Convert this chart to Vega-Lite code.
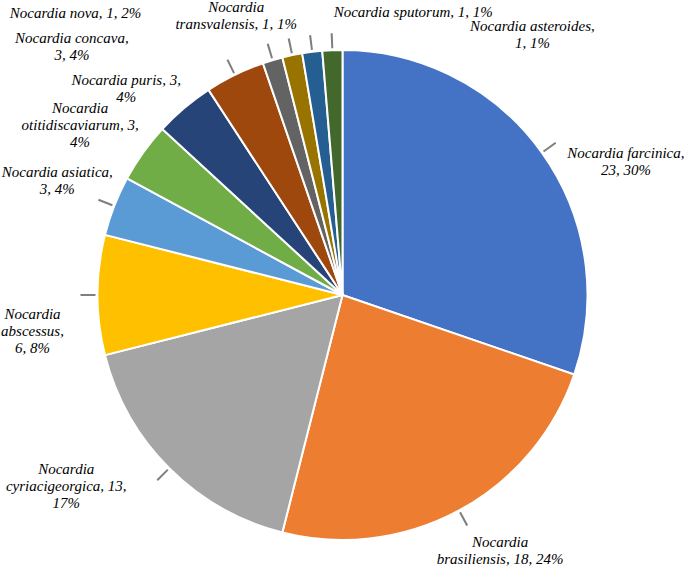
{
  "$schema": "https://vega.github.io/schema/vega-lite/v6.json",
  "width": 685,
  "height": 548,
  "padding": {"top": 21, "left": 0, "right": 0, "bottom": 0},
  "autosize": {"type": "none"},
  "background": "white",
  "config": {"view": {"stroke": null}, "text": {"font": "'Liberation Serif', 'Times New Roman', Times, serif", "fontStyle": "italic", "fontSize": 15, "lineHeight": 17, "lineBreak": "\n", "color": "#000", "align": "center", "baseline": "top"}},
  "data": {
    "values": [
      {"order": 1, "species": "Nocardia farcinica", "count": 23, "label": "Nocardia farcinica,\n23, 30%"},
      {"order": 2, "species": "Nocardia brasiliensis", "count": 18, "label": "Nocardia\nbrasiliensis, 18, 24%"},
      {"order": 3, "species": "Nocardia cyriacigeorgica", "count": 13, "label": "Nocardia\ncyriacigeorgica, 13,\n17%"},
      {"order": 4, "species": "Nocardia abscessus", "count": 6, "label": "Nocardia\nabscessus,\n6, 8%"},
      {"order": 5, "species": "Nocardia asiatica", "count": 3, "label": "Nocardia asiatica,\n3, 4%"},
      {"order": 6, "species": "Nocardia otitidiscaviarum", "count": 3, "label": "Nocardia\notitidiscaviarum, 3,\n4%"},
      {"order": 7, "species": "Nocardia puris", "count": 3, "label": "Nocardia puris, 3,\n4%"},
      {"order": 8, "species": "Nocardia concava", "count": 3, "label": "Nocardia concava,\n3, 4%"},
      {"order": 9, "species": "Nocardia nova", "count": 1, "label": "Nocardia nova, 1, 2%"},
      {"order": 10, "species": "Nocardia transvalensis", "count": 1, "label": "Nocardia\ntransvalensis, 1, 1%"},
      {"order": 11, "species": "Nocardia sputorum", "count": 1, "label": "Nocardia sputorum, 1, 1%"},
      {"order": 12, "species": "Nocardia asteroides", "count": 1, "label": "Nocardia asteroides,\n1, 1%"}
    ]
  },
  "transform": [
    {"window": [{"op": "sum", "field": "count", "as": "cum"}], "sort": [{"field": "order", "order": "ascending"}], "frame": [null, 0]},
    {"joinaggregate": [{"op": "sum", "field": "count", "as": "total"}]},
    {"calculate": "2 * PI * (datum.cum - datum.count / 2) / datum.total", "as": "mid"},
    {"calculate": "datum.mid - 0.004", "as": "t1"},
    {"calculate": "datum.mid + 0.004", "as": "t2"}
  ],
  "resolve": {"scale": {"theta": "independent"}},
  "layer": [
    {
      "mark": {"type": "arc", "radius": 245, "stroke": "white", "strokeWidth": 2},
      "encoding": {
        "theta": {"field": "count", "type": "quantitative", "stack": true},
        "order": {"field": "order", "type": "quantitative"},
        "color": {
          "field": "species", "type": "nominal", "legend": null,
          "scale": {
            "domain": ["Nocardia farcinica", "Nocardia brasiliensis", "Nocardia cyriacigeorgica", "Nocardia abscessus", "Nocardia asiatica", "Nocardia otitidiscaviarum", "Nocardia puris", "Nocardia concava", "Nocardia nova", "Nocardia transvalensis", "Nocardia sputorum", "Nocardia asteroides"],
            "range": ["#4472C4", "#ED7D31", "#A5A5A5", "#FFC000", "#5B9BD5", "#70AD47", "#264478", "#9E480E", "#636363", "#997300", "#255E91", "#43682B"]
          }
        }
      }
    },
    {
      "transform": [{"filter": "datum.order != 6 && datum.order != 7"}],
      "mark": {"type": "arc", "radius": 262, "radius2": 247, "fill": "#7f7f7f"},
      "encoding": {
        "theta": {"field": "t1", "type": "quantitative", "scale": null},
        "theta2": {"field": "t2"}
      }
    },
    {"transform": [{"filter": "datum.order == 1"}], "mark": {"type": "text", "radius": 245, "dx": 84, "dy": -7}, "encoding": {"theta": {"field": "mid", "type": "quantitative", "scale": null}, "text": {"field": "label"}}},
    {"transform": [{"filter": "datum.order == 2"}], "mark": {"type": "text", "radius": 245, "dx": 41, "dy": 25}, "encoding": {"theta": {"field": "mid", "type": "quantitative", "scale": null}, "text": {"field": "label"}}},
    {"transform": [{"filter": "datum.order == 3"}], "mark": {"type": "text", "radius": 245, "dx": -103, "dy": -6}, "encoding": {"theta": {"field": "mid", "type": "quantitative", "scale": null}, "text": {"field": "label"}}},
    {"transform": [{"filter": "datum.order == 4"}], "mark": {"type": "text", "radius": 245, "dx": -65, "dy": 12}, "encoding": {"theta": {"field": "mid", "type": "quantitative", "scale": null}, "text": {"field": "label"}}},
    {"transform": [{"filter": "datum.order == 5"}], "mark": {"type": "text", "radius": 245, "dx": -57, "dy": -41}, "encoding": {"theta": {"field": "mid", "type": "quantitative", "scale": null}, "text": {"field": "label"}}},
    {"transform": [{"filter": "datum.order == 6"}], "mark": {"type": "text", "radius": 245, "dx": -63, "dy": -52}, "encoding": {"theta": {"field": "mid", "type": "quantitative", "scale": null}, "text": {"field": "label"}}},
    {"transform": [{"filter": "datum.order == 7"}], "mark": {"type": "text", "radius": 245, "dx": -58, "dy": -35}, "encoding": {"theta": {"field": "mid", "type": "quantitative", "scale": null}, "text": {"field": "label"}}},
    {"transform": [{"filter": "datum.order == 8"}], "mark": {"type": "text", "radius": 245, "dx": -163, "dy": -44}, "encoding": {"theta": {"field": "mid", "type": "quantitative", "scale": null}, "text": {"field": "label"}}},
    {"transform": [{"filter": "datum.order == 9"}], "mark": {"type": "text", "radius": 245, "dx": -197, "dy": -54}, "encoding": {"theta": {"field": "mid", "type": "quantitative", "scale": null}, "text": {"field": "label"}}},
    {"transform": [{"filter": "datum.order == 10"}], "mark": {"type": "text", "radius": 245, "dx": -56, "dy": -55}, "encoding": {"theta": {"field": "mid", "type": "quantitative", "scale": null}, "text": {"field": "label"}}},
    {"transform": [{"filter": "datum.order == 11"}], "mark": {"type": "text", "radius": 245, "dx": 101, "dy": -47}, "encoding": {"theta": {"field": "mid", "type": "quantitative", "scale": null}, "text": {"field": "label"}}},
    {"transform": [{"filter": "datum.order == 12"}], "mark": {"type": "text", "radius": 245, "dx": 200, "dy": -31}, "encoding": {"theta": {"field": "mid", "type": "quantitative", "scale": null}, "text": {"field": "label"}}}
  ]
}
